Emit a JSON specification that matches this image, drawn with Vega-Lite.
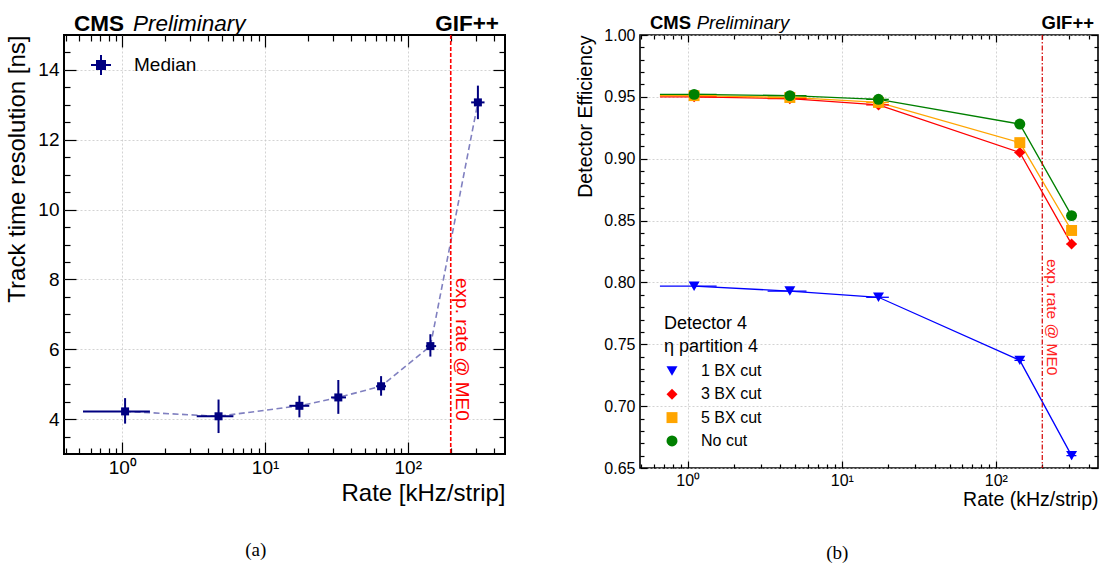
{
  "$schema": "https://vega.github.io/schema/vega-lite/v6.json",
  "background": "white",
  "padding": {"left": 4, "top": 0, "right": 2, "bottom": 2},
  "spacing": 68,
  "config": {
    "font": "Liberation Sans",
    "view": {"stroke": "black"},
    "axis": {"labelColor": "black", "titleColor": "black", "tickColor": "black", "tickOpacity": 1, "domain": false, "labelFont": "Liberation Sans", "titleFont": "Liberation Sans", "titleFontWeight": "normal", "labelOverlap": false, "labelFlush": false, "gridColor": "#c8c8c8", "gridDash": [2, 2], "gridWidth": 0.8, "tickWidth": 1.2},
    "legend": {"labelColor": "black", "titleColor": "black", "titleFontWeight": "normal", "labelFont": "Liberation Sans", "titleFont": "Liberation Sans"},
    "title": {"color": "black"}
  },
  "datasets": {
    "left": [
      {"rate": 1.045, "rate_lo": 0.53, "rate_hi": 1.56, "res": 4.22, "res_lo": 3.87, "res_hi": 4.6},
      {"rate": 4.72, "rate_lo": 3.32, "rate_hi": 6.0, "res": 4.08, "res_lo": 3.6, "res_hi": 4.56},
      {"rate": 17.4, "rate_lo": 14.8, "rate_hi": 20.4, "res": 4.38, "res_lo": 4.05, "res_hi": 4.67},
      {"rate": 32.6, "rate_lo": 29.0, "rate_hi": 36.9, "res": 4.62, "res_lo": 4.15, "res_hi": 5.12},
      {"rate": 65, "rate_lo": 60, "rate_hi": 70.4, "res": 4.94, "res_lo": 4.67, "res_hi": 5.23},
      {"rate": 144, "rate_lo": 134, "rate_hi": 158, "res": 6.09, "res_lo": 5.79, "res_hi": 6.43},
      {"rate": 310, "rate_lo": 278, "rate_hi": 345, "res": 13.07, "res_lo": 12.59, "res_hi": 13.55}
    ],
    "right": [
      {"series": "1 BX cut", "rate": 1.1, "rate_lo": 0.66, "rate_hi": 1.54, "eff": 0.797, "eff_lo": 0.795, "eff_hi": 0.799},
      {"series": "1 BX cut", "rate": 4.6, "rate_lo": 3.3, "rate_hi": 5.9, "eff": 0.793, "eff_lo": 0.791, "eff_hi": 0.795},
      {"series": "1 BX cut", "rate": 17.3, "rate_lo": 14.4, "rate_hi": 20.2, "eff": 0.788, "eff_lo": 0.786, "eff_hi": 0.790},
      {"series": "1 BX cut", "rate": 143, "rate_lo": 132, "rate_hi": 154, "eff": 0.737, "eff_lo": 0.735, "eff_hi": 0.739},
      {"series": "1 BX cut", "rate": 310, "rate_lo": 287, "rate_hi": 333, "eff": 0.660, "eff_lo": 0.657, "eff_hi": 0.663},
      {"series": "3 BX cut", "rate": 1.1, "rate_lo": 0.66, "rate_hi": 1.54, "eff": 0.950, "eff_lo": 0.949, "eff_hi": 0.951},
      {"series": "3 BX cut", "rate": 4.6, "rate_lo": 3.3, "rate_hi": 5.9, "eff": 0.9485, "eff_lo": 0.9475, "eff_hi": 0.9495},
      {"series": "3 BX cut", "rate": 17.3, "rate_lo": 14.4, "rate_hi": 20.2, "eff": 0.9435, "eff_lo": 0.9425, "eff_hi": 0.9445},
      {"series": "3 BX cut", "rate": 143, "rate_lo": 132, "rate_hi": 154, "eff": 0.905, "eff_lo": 0.903, "eff_hi": 0.907},
      {"series": "3 BX cut", "rate": 310, "rate_lo": 287, "rate_hi": 333, "eff": 0.831, "eff_lo": 0.829, "eff_hi": 0.833},
      {"series": "5 BX cut", "rate": 1.1, "rate_lo": 0.66, "rate_hi": 1.54, "eff": 0.951, "eff_lo": 0.950, "eff_hi": 0.952},
      {"series": "5 BX cut", "rate": 4.6, "rate_lo": 3.3, "rate_hi": 5.9, "eff": 0.9495, "eff_lo": 0.9485, "eff_hi": 0.9505},
      {"series": "5 BX cut", "rate": 17.3, "rate_lo": 14.4, "rate_hi": 20.2, "eff": 0.9455, "eff_lo": 0.9445, "eff_hi": 0.9465},
      {"series": "5 BX cut", "rate": 143, "rate_lo": 132, "rate_hi": 154, "eff": 0.913, "eff_lo": 0.911, "eff_hi": 0.915},
      {"series": "5 BX cut", "rate": 310, "rate_lo": 287, "rate_hi": 333, "eff": 0.842, "eff_lo": 0.840, "eff_hi": 0.844},
      {"series": "No cut", "rate": 1.1, "rate_lo": 0.66, "rate_hi": 1.54, "eff": 0.952, "eff_lo": 0.951, "eff_hi": 0.953},
      {"series": "No cut", "rate": 4.6, "rate_lo": 3.3, "rate_hi": 5.9, "eff": 0.951, "eff_lo": 0.950, "eff_hi": 0.952},
      {"series": "No cut", "rate": 17.3, "rate_lo": 14.4, "rate_hi": 20.2, "eff": 0.948, "eff_lo": 0.947, "eff_hi": 0.949},
      {"series": "No cut", "rate": 143, "rate_lo": 132, "rate_hi": 154, "eff": 0.928, "eff_lo": 0.926, "eff_hi": 0.930},
      {"series": "No cut", "rate": 310, "rate_lo": 287, "rate_hi": 333, "eff": 0.854, "eff_lo": 0.852, "eff_hi": 0.856}
    ]
  },
  "resolve": {"scale": {"x": "independent", "y": "independent", "color": "independent", "shape": "independent", "stroke": "independent"}, "legend": {"color": "independent", "shape": "independent", "stroke": "independent"}},
  "hconcat": [
    {
      "vconcat": [
        {
          "width": 441,
          "height": 419,
          "view": {"stroke": "black", "strokeWidth": 2},
          "title": {"text": "(a)", "orient": "bottom", "anchor": "middle", "frame": "bounds", "font": "Liberation Serif", "fontSize": 19, "fontWeight": "normal", "offset": 36, "color": "black"},
          "data": {"name": "left"},
          "resolve": {"axis": {"x": "independent", "y": "independent"}},
          "layer": [
            {
              "mark": {"type": "line", "strokeDash": [6, 3.5], "color": "#8080c0", "strokeWidth": 1.6},
              "encoding": {
                "x": {"field": "rate", "type": "quantitative", "scale": {"type": "log", "domain": [0.39, 480], "nice": false},
                  "axis": {"orient": "bottom", "values": [1, 10, 100],
                    "labelExpr": "datum.value == 1 ? '10⁰' : datum.value == 10 ? '10¹' : '10²'",
                    "tickSize": -12, "tickColor": "black", "grid": true, "labelFontSize": 19, "labelPadding": 16, "title": "Rate [kHz/strip]", "titleFontSize": 24, "titleAnchor": "end", "titlePadding": 4}},
                "y": {"field": "res", "type": "quantitative", "scale": {"domain": [3, 15], "nice": false, "zero": false},
                  "axis": {"orient": "left", "values": [4, 6, 8, 10, 12, 14], "format": "d",
                    "tickSize": -12, "tickColor": "black", "grid": true, "labelFontSize": 19, "labelPadding": 17, "title": "Track time resolution [ns]", "titleFontSize": 24, "titleAnchor": "end", "titlePadding": 8}}
              }
            },
            {
              "mark": {"type": "rule", "color": "#000080", "strokeWidth": 2},
              "encoding": {
                "x": {"field": "rate_lo", "type": "quantitative",
                  "axis": {"orient": "bottom", "values": [0.4,0.5,0.6,0.7,0.8,0.9,2,3,4,5,6,7,8,9,20,30,40,50,60,70,80,90,200,300,400], "labels": false, "grid": false, "title": null, "tickSize": -6, "tickColor": "black"}},
                "x2": {"field": "rate_hi"},
                "y": {"field": "res", "type": "quantitative",
                  "axis": {"orient": "left", "values": [3.5,4.5,5,5.5,6.5,7,7.5,8.5,9,9.5,10.5,11,11.5,12.5,13,13.5,14.5], "labels": false, "grid": false, "title": null, "tickSize": -6, "tickColor": "black"}}
              }
            },
            {
              "mark": {"type": "rule", "color": "#000080", "strokeWidth": 2},
              "encoding": {
                "x": {"field": "rate", "type": "quantitative",
                  "axis": {"orient": "top", "values": [1, 10, 100], "labels": false, "grid": false, "tickSize": -12, "tickColor": "black",
                    "title": "GIF++", "titleOpacity": 0, "titleFontSize": 20, "titlePadding": 13}},
                "y": {"field": "res_lo", "type": "quantitative",
                  "axis": {"orient": "right", "values": [4, 6, 8, 10, 12, 14], "labels": false, "grid": false, "title": null, "tickSize": -12, "tickColor": "black"}},
                "y2": {"field": "res_hi"}
              }
            },
            {
              "mark": {"type": "point", "shape": "square", "filled": true, "size": 64, "opacity": 1},
              "encoding": {
                "x": {"field": "rate", "type": "quantitative",
                  "axis": {"orient": "top", "values": [0.4,0.5,0.6,0.7,0.8,0.9,2,3,4,5,6,7,8,9,20,30,40,50,60,70,80,90,200,300,400], "labels": false, "grid": false, "title": null, "tickSize": -6, "tickColor": "black"}},
                "y": {"field": "res", "type": "quantitative",
                  "axis": {"orient": "right", "values": [3.5,4.5,5,5.5,6.5,7,7.5,8.5,9,9.5,10.5,11,11.5,12.5,13,13.5,14.5], "labels": false, "grid": false, "title": null, "tickSize": -6, "tickColor": "black"}},
                "color": {"datum": "Median", "type": "nominal", "scale": {"domain": ["Median"], "range": ["#000080"]},
                  "legend": {"title": null, "orient": "none", "legendX": 26, "legendY": 19, "symbolSize": 400, "labelFontSize": 19, "labelOffset": 22,
                    "symbolType": "M-1,0H1M0,-1V1M-0.4,-0.4H0.4V0.4H-0.4Z", "symbolStrokeColor": "#000080", "symbolStrokeWidth": 2, "symbolFillColor": "#000080"}}
              }
            },
            {
              "data": {"values": [{}]},
              "mark": {"type": "rule", "color": "#ff0000", "strokeDash": [4, 2], "strokeWidth": 1.6},
              "encoding": {
                "x": {"datum": 200, "type": "quantitative", "axis": null}
              }
            },
            {
              "data": {"values": [{}]},
              "mark": {"type": "text", "text": "exp. rate @ ME0", "angle": 90, "align": "left", "baseline": "middle", "fontSize": 19, "color": "#ff0000"},
              "encoding": {
                "x": {"datum": 240, "type": "quantitative", "axis": null},
                "y": {"datum": 8.04, "type": "quantitative", "axis": null}
              }
            },
            {
              "data": {"values": [{}]},
              "mark": {"type": "text", "text": "CMS", "align": "left", "baseline": "alphabetic", "fontSize": 22.5, "fontWeight": "bold", "dx": 10, "dy": -4, "color": "black"},
              "encoding": {
                "x": {"datum": 0.39, "type": "quantitative", "axis": null},
                "y": {"datum": 15, "type": "quantitative", "axis": null}
              }
            },
            {
              "data": {"values": [{}]},
              "mark": {"type": "text", "text": "Preliminary", "align": "left", "baseline": "alphabetic", "fontSize": 22.5, "fontStyle": "italic", "dx": 69, "dy": -4, "color": "black"},
              "encoding": {
                "x": {"datum": 0.39, "type": "quantitative", "axis": null},
                "y": {"datum": 15, "type": "quantitative", "axis": null}
              }
            },
            {
              "data": {"values": [{}]},
              "mark": {"type": "text", "text": "GIF++", "align": "right", "baseline": "alphabetic", "fontSize": 22.5, "fontWeight": "bold", "dx": -6, "dy": -4, "color": "black"},
              "encoding": {
                "x": {"datum": 480, "type": "quantitative", "axis": null},
                "y": {"datum": 15, "type": "quantitative", "axis": null}
              }
            }
          ]
        }
      ]
    },
    {
      "vconcat": [
        {
          "width": 458,
          "height": 433,
          "view": {"stroke": "black", "strokeWidth": 1.6},
          "title": {"text": "(b)", "orient": "bottom", "anchor": "middle", "frame": "bounds", "font": "Liberation Serif", "fontSize": 19, "fontWeight": "normal", "offset": 35, "color": "black"},
          "data": {"name": "right"},
          "resolve": {"axis": {"x": "independent", "y": "independent"}},
          "layer": [
            {
              "mark": {"type": "line", "strokeWidth": 1.3},
              "encoding": {
                "x": {"field": "rate", "type": "quantitative", "scale": {"type": "log", "domain": [0.49, 460], "nice": false},
                  "axis": {"orient": "bottom", "values": [1, 10, 100],
                    "labelExpr": "datum.value == 1 ? '10⁰' : datum.value == 10 ? '10¹' : '10²'",
                    "tickSize": -7, "tickColor": "black", "grid": true, "labelFontSize": 16, "labelPadding": 11, "title": "Rate (kHz/strip)", "titleFontSize": 19.5, "titleAnchor": "end", "titlePadding": 2}},
                "y": {"field": "eff", "type": "quantitative", "scale": {"domain": [0.65, 1.0], "nice": false, "zero": false},
                  "axis": {"orient": "left", "values": [0.65, 0.7, 0.75, 0.8, 0.85, 0.9, 0.95, 1.0], "format": ".2f",
                    "tickSize": -7, "tickColor": "black", "grid": true, "labelFontSize": 16, "labelPadding": 12, "title": "Detector Efficiency", "titleFontSize": 19.5, "titleAnchor": "end", "titlePadding": 8}},
                "stroke": {"field": "series", "type": "nominal", "scale": {"domain": ["No cut", "5 BX cut", "3 BX cut", "1 BX cut"], "range": ["#008000", "#ffa500", "#ff0000", "#0000ff"]}, "legend": null},
                "detail": {"field": "series"}
              }
            },
            {
              "mark": {"type": "rule", "strokeWidth": 1.3},
              "encoding": {
                "x": {"field": "rate_lo", "type": "quantitative",
                  "axis": {"orient": "bottom", "values": [0.5,0.6,0.7,0.8,0.9,2,3,4,5,6,7,8,9,20,30,40,50,60,70,80,90,200,300,400], "labels": false, "grid": false, "title": null, "tickSize": -4, "tickColor": "black"}},
                "x2": {"field": "rate_hi"},
                "y": {"field": "eff", "type": "quantitative",
                  "axis": {"orient": "left", "values": [0.66,0.67,0.68,0.69,0.71,0.72,0.73,0.74,0.76,0.77,0.78,0.79,0.81,0.82,0.83,0.84,0.86,0.87,0.88,0.89,0.91,0.92,0.93,0.94,0.96,0.97,0.98,0.99], "labels": false, "grid": false, "title": null, "tickSize": -4, "tickColor": "black"}},
                "stroke": {"field": "series", "type": "nominal", "legend": null}
              }
            },
            {
              "mark": {"type": "rule", "strokeWidth": 1.3},
              "encoding": {
                "x": {"field": "rate", "type": "quantitative",
                  "axis": {"orient": "top", "values": [1, 10, 100], "labels": false, "grid": false, "title": null, "tickSize": -7, "tickColor": "black"}},
                "y": {"field": "eff_lo", "type": "quantitative",
                  "axis": {"orient": "right", "values": [0.65, 0.7, 0.75, 0.8, 0.85, 0.9, 0.95, 1.0], "labels": false, "grid": false, "title": null, "tickSize": -7, "tickColor": "black"}},
                "y2": {"field": "eff_hi"},
                "stroke": {"field": "series", "type": "nominal", "legend": null}
              }
            },
            {
              "mark": {"type": "point", "filled": true, "size": 120, "opacity": 1},
              "encoding": {
                "x": {"field": "rate", "type": "quantitative",
                  "axis": {"orient": "top", "values": [0.5,0.6,0.7,0.8,0.9,2,3,4,5,6,7,8,9,20,30,40,50,60,70,80,90,200,300,400], "labels": false, "grid": false, "title": null, "tickSize": -4, "tickColor": "black"}},
                "y": {"field": "eff", "type": "quantitative",
                  "axis": {"orient": "right", "values": [0.66,0.67,0.68,0.69,0.71,0.72,0.73,0.74,0.76,0.77,0.78,0.79,0.81,0.82,0.83,0.84,0.86,0.87,0.88,0.89,0.91,0.92,0.93,0.94,0.96,0.97,0.98,0.99], "labels": false, "grid": false, "title": null, "tickSize": -4, "tickColor": "black"}},
                "color": {"field": "series", "type": "nominal", "scale": {"domain": ["1 BX cut", "3 BX cut", "5 BX cut", "No cut"], "range": ["#0000ff", "#ff0000", "#ffa500", "#008000"]},
                  "legend": {"title": ["Detector 4", "η partition 4"], "orient": "none", "legendX": 24, "legendY": 280, "titleFontSize": 18, "titleLineHeight": 23, "titlePadding": 7, "titleAnchor": "start",
                    "symbolSize": 120, "labelFontSize": 16, "labelOffset": 21, "rowPadding": 7.3, "symbolStrokeWidth": 0}},
                "shape": {"field": "series", "type": "nominal", "scale": {"domain": ["1 BX cut", "3 BX cut", "5 BX cut", "No cut"], "range": ["triangle-down", "diamond", "square", "circle"]}}
              }
            },
            {
              "data": {"values": [{}]},
              "mark": {"type": "rule", "color": "#d40000", "strokeDash": [5, 2, 1.5, 2], "strokeWidth": 1.2},
              "encoding": {
                "x": {"datum": 200, "type": "quantitative", "axis": null}
              }
            },
            {
              "data": {"values": [{}]},
              "mark": {"type": "text", "text": "exp. rate @ ME0", "angle": 90, "align": "left", "baseline": "middle", "fontSize": 15.5, "color": "#ff2020"},
              "encoding": {
                "x": {"datum": 230, "type": "quantitative", "axis": null},
                "y": {"datum": 0.819, "type": "quantitative", "axis": null}
              }
            },
            {
              "data": {"values": [{}]},
              "mark": {"type": "text", "text": "CMS", "align": "left", "baseline": "alphabetic", "fontSize": 18.5, "fontWeight": "bold", "dx": 10, "dy": -6, "color": "black"},
              "encoding": {
                "x": {"datum": 0.49, "type": "quantitative", "axis": null},
                "y": {"datum": 1.0, "type": "quantitative", "axis": null}
              }
            },
            {
              "data": {"values": [{}]},
              "mark": {"type": "text", "text": "Preliminary", "align": "left", "baseline": "alphabetic", "fontSize": 18.5, "fontStyle": "italic", "dx": 56.7, "dy": -6, "color": "black"},
              "encoding": {
                "x": {"datum": 0.49, "type": "quantitative", "axis": null},
                "y": {"datum": 1.0, "type": "quantitative", "axis": null}
              }
            },
            {
              "data": {"values": [{}]},
              "mark": {"type": "text", "text": "GIF++", "align": "right", "baseline": "alphabetic", "fontSize": 18.5, "fontWeight": "bold", "dx": -4, "dy": -6, "color": "black"},
              "encoding": {
                "x": {"datum": 460, "type": "quantitative", "axis": null},
                "y": {"datum": 1.0, "type": "quantitative", "axis": null}
              }
            }
          ]
        }
      ]
    }
  ]
}
